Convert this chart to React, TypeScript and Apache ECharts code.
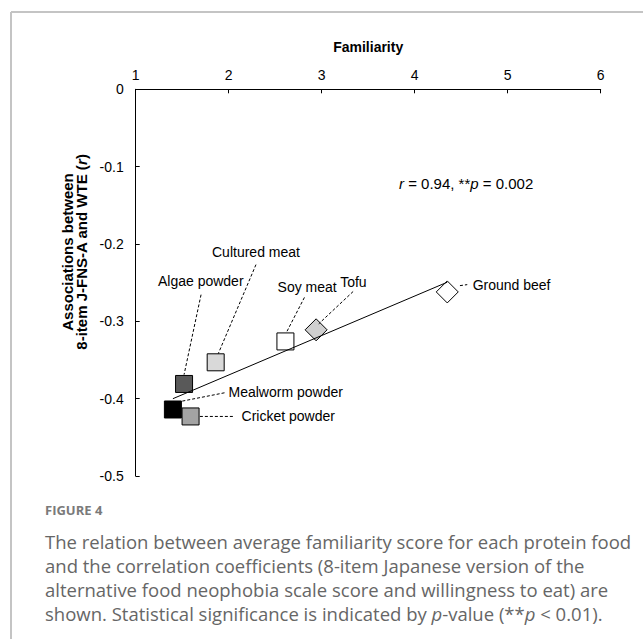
import React, { useEffect, useRef } from "react";
import * as echarts from "echarts";

const foods = ["Mealworm powder", "Cricket powder", "Algae powder", "Cultured meat", "Soy meat", "Tofu", "Ground beef"];
const familiarity = [1.4, 1.59, 1.52, 1.86, 2.61, 2.94, 4.35];
const correlation = [-0.414, -0.423, -0.381, -0.353, -0.326, -0.311, -0.262];
const xTicks = [1, 2, 3, 4, 5, 6];
const yTicks = [-0.5, -0.4, -0.3, -0.2, -0.1, 0];

// styles (not data)
const markerShapes = ["rect", "rect", "rect", "rect", "rect", "diamond", "diamond"];
const markerColors = ["#000000", "#a3a3a3", "#595959", "#d9d9d9", "#ffffff", "#cfcfcf", "#ffffff"];
// label placement relative to each marker, in pixels: [textDx, textDy, align, leadFromDx, leadFromDy, leadToDx, leadToDy]
const labelPlacement: [number, number, string, number, number, number, number][] = [
  [55.6, -17.3, "left", 51.6, -16.7, 9, -8.3],
  [51, -0.7, "left", 9.3, 0, 44.3, 0],
  [16.7, -102.6, "center", 17, -89.3, 0, -9.3],
  [40.3, -110.7, "center", 40.3, -97.7, 2.6, -8.7],
  [21.7, -54.7, "center", 19, -44, 1, -9],
  [37.3, -48.3, "center", 37, -38.3, 2.6, -6],
  [25.4, -6.6, "left", 12.7, -6.3, 20, -7.3],
];

const FONT = "'Liberation Sans', Arial, Helvetica, sans-serif";
const CAP_FONT = "'Open Sans', Lato, sans-serif";

function regression(xs: number[], ys: number[]) {
  const n = xs.length;
  const mx = xs.reduce((a, b) => a + b, 0) / n;
  const my = ys.reduce((a, b) => a + b, 0) / n;
  let sxy = 0, sxx = 0;
  for (let i = 0; i < n; i++) {
    sxy += (xs[i] - mx) * (ys[i] - my);
    sxx += (xs[i] - mx) * (xs[i] - mx);
  }
  const slope = sxy / sxx;
  const intercept = my - slope * mx;
  const x0 = Math.min(...xs);
  const x1 = Math.max(...xs);
  return [
    [x0, intercept + slope * x0],
    [x1, intercept + slope * x1],
  ];
}

export default function App() {
  const ref = useRef<HTMLDivElement>(null);
  useEffect(() => {
    if (!ref.current) return;
    const chart = echarts.init(ref.current, null, { renderer: "svg" });
    const trend = regression(familiarity, correlation);
    chart.setOption({
      animation: false,
      grid: { left: 135.7, right: 42.3, top: 89.3, bottom: 163, containLabel: false },
      xAxis: {
        type: "value",
        position: "top",
        min: xTicks[0],
        max: xTicks[xTicks.length - 1],
        interval: 1,
        name: "Familiarity",
        nameLocation: "middle",
        nameGap: 35,
        nameTextStyle: { fontWeight: "bold", fontSize: 14, color: "#000", fontFamily: FONT },
        axisLine: { show: true, onZero: false, lineStyle: { color: "#000", width: 1 } },
        axisTick: { show: true, inside: true, length: 4, lineStyle: { color: "#000" } },
        axisLabel: { fontSize: 14, color: "#000", margin: 7, fontFamily: FONT },
        splitLine: { show: false },
      },
      yAxis: {
        type: "value",
        min: yTicks[0],
        max: yTicks[yTicks.length - 1],
        interval: 0.1,
        axisLine: { show: true, onZero: false, lineStyle: { color: "#000", width: 1 } },
        axisTick: { show: true, inside: true, length: 4, lineStyle: { color: "#000" } },
        axisLabel: { fontSize: 14, color: "#000", margin: 12, fontFamily: FONT },
        splitLine: { show: false },
      },
      series: [
        {
          type: "scatter",
          z: 2,
          data: foods.map((f, i) => ({
            name: f,
            value: [familiarity[i], correlation[i]],
            symbol: markerShapes[i],
            symbolSize: markerShapes[i] === "diamond" ? 22 : 17,
            itemStyle: { color: markerColors[i], borderColor: "#000", borderWidth: 1, opacity: 1 },
          })),
        },
        {
          type: "line",
          z: 3,
          data: trend,
          symbol: "none",
          lineStyle: { color: "#000", width: 1 },
        },
      ],
    });

    const graphics: any[] = [
      { type: "line", shape: { x1: 11, y1: 12, x2: 643, y2: 12 }, style: { stroke: "#c4c4c4", lineWidth: 2 } },
      { type: "line", shape: { x1: 11, y1: 12, x2: 11, y2: 639 }, style: { stroke: "#c4c4c4", lineWidth: 2 } },
      {
        type: "text",
        x: 74.5,
        y: 252,
        rotation: Math.PI / 2,
        style: {
          text: "{b|Associations between}\n{b|8-item J-FNS-A and WTE (}{bi|r}{b|)}",
          align: "center",
          verticalAlign: "middle",
          rich: {
            b: { fontFamily: FONT, fontSize: 15, fontWeight: "bold", fill: "#000", lineHeight: 14 },
            bi: { fontFamily: FONT, fontSize: 15, fontWeight: "bold", fontStyle: "italic", fill: "#000", lineHeight: 14 },
          },
        },
      },
      {
        type: "text",
        x: 399,
        y: 183.5,
        style: {
          text: "{i|r}{n| = 0.94, **}{i|p}{n| = 0.002}",
          align: "left",
          verticalAlign: "middle",
          rich: {
            n: { fontFamily: FONT, fontSize: 15, fill: "#000" },
            i: { fontFamily: FONT, fontSize: 15, fontStyle: "italic", fill: "#000" },
          },
        },
      },
      {
        type: "text",
        x: 45,
        y: 510,
        style: {
          text: "FIGURE 4",
          font: `bold 13px ${CAP_FONT}`,
          fill: "#7a7a7a",
          align: "left",
          verticalAlign: "middle",
        },
      },
      {
        type: "text",
        x: 45,
        y: 529,
        style: {
          text:
            "{n|The relation between average familiarity score for each protein food}\n" +
            "{n|and the correlation coefficients (8-item Japanese version of the}\n" +
            "{n|alternative food neophobia scale score and willingness to eat) are}\n" +
            "{n|shown. Statistical significance is indicated by }{i|p}{n|-value (**}{i|p}{n| < 0.01).}",
          align: "left",
          verticalAlign: "top",
          rich: {
            n: { fontFamily: CAP_FONT, fontSize: 18.5, fill: "#666666", lineHeight: 24 },
            i: { fontFamily: CAP_FONT, fontSize: 18.5, fontStyle: "italic", fill: "#666666", lineHeight: 24 },
          },
        },
      },
    ];

    foods.forEach((f, i) => {
      const p = chart.convertToPixel({ gridIndex: 0 }, [familiarity[i], correlation[i]]) as number[];
      const [tdx, tdy, align, fdx, fdy, ldx, ldy] = labelPlacement[i];
      graphics.push({
        type: "text",
        x: p[0] + tdx,
        y: p[1] + tdy,
        z: 10,
        style: { text: f, font: `14px ${FONT}`, fill: "#000", align, verticalAlign: "middle" },
      });
      graphics.push({
        type: "line",
        z: 10,
        shape: { x1: p[0] + fdx, y1: p[1] + fdy, x2: p[0] + ldx, y2: p[1] + ldy },
        style: { stroke: "#000", lineWidth: 1, lineDash: [3, 2] },
      });
    });

    chart.setOption({ graphic: graphics });
    return () => chart.dispose();
  }, []);
  return <div ref={ref} style={{ position: "absolute", left: 0, top: 0, width: 643, height: 639 }} />;
}
